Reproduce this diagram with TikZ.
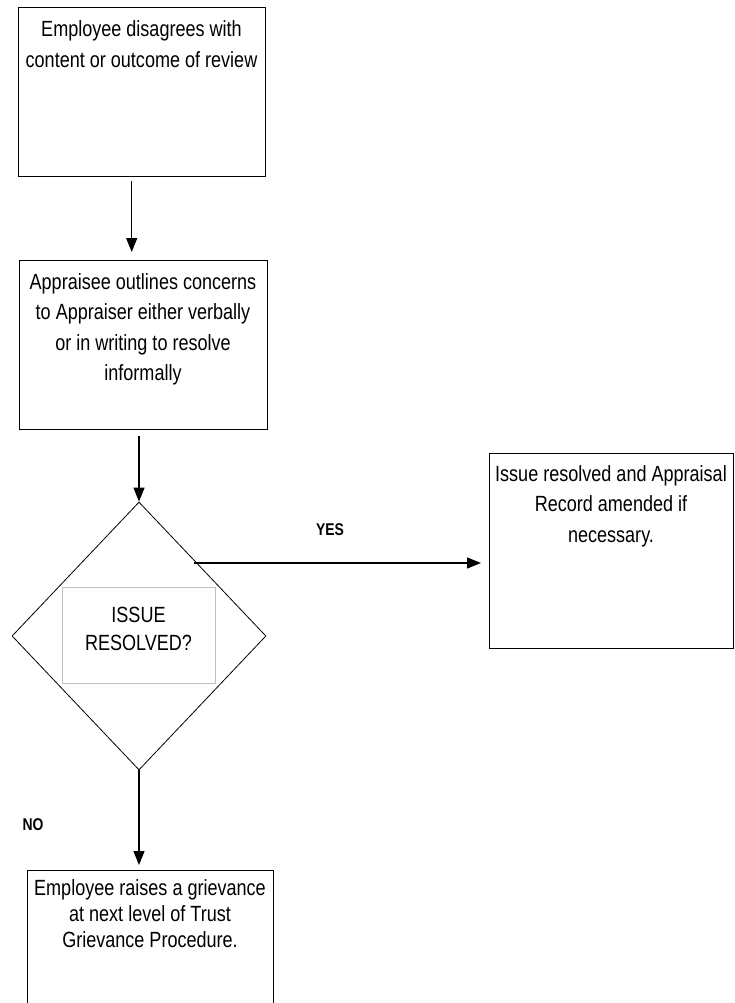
\documentclass[tikz,border=0pt]{standalone}
\usepackage{fontspec}
\setmainfont{Liberation Sans}[FakeStretch=0.82]
\usetikzlibrary{arrows.meta,shapes.geometric,calc}
\begin{document}
\begin{tikzpicture}[x=1pt,y=-1pt,
  box/.style={draw=black,line width=1.4pt,inner sep=0pt,anchor=north west},
  txt/.style={align=center,inner sep=0pt,anchor=north},
  arr/.style={line width=1.3pt,-{Triangle[length=14pt,width=11pt]}},
  lbl/.style={font=\fontsize{17}{19}\selectfont\bfseries,inner sep=0pt}]
\useasboundingbox (0,0) rectangle (734,1003);
% boxes
\node[box,minimum width=247pt,minimum height=169pt] (b1) at (18,7) {};
\node[box,minimum width=248pt,minimum height=169pt] (b2) at (19,260) {};
\node[box,minimum width=244pt,minimum height=195pt] (b3) at (489,453) {};
\node[box,minimum width=246pt,minimum height=150pt] (b4) at (27,870) {};
\node[draw=black,line width=0.8pt,shape=diamond,inner sep=0pt,minimum width=254pt,minimum height=268pt] (dia) at (139,636) {};
\node[draw=black!25,line width=1pt,inner sep=0pt,minimum width=153pt,minimum height=96pt] (ir) at (138.5,635) {};
% texts
\node[txt,font=\fontsize{22}{31}\selectfont] (t1) at (141.5,20) {Employee disagrees with\\content or outcome of review};
\node[txt,font=\fontsize{22}{30.5}\selectfont] (t2) at (143,273) {Appraisee outlines concerns\\to Appraiser either verbally\\or in writing to resolve\\informally};
\node[txt,font=\fontsize{22}{30.5}\selectfont] (t3) at (611,465) {Issue resolved and Appraisal\\Record amended if\\necessary.};
\node[txt,font=\fontsize{22}{26}\selectfont] (t4) at (150,879) {Employee raises a grievance\\at next level of Trust\\Grievance Procedure.};
\node[txt,font=\fontsize{22}{28}\selectfont] (t5) at (138.5,607) {ISSUE\\RESOLVED?};
% labels
\node[lbl] (yes) at (330,530) {YES};
\node[lbl] (no) at (33,825) {NO};
% connectors
\coordinate (ys) at (194,563);
\draw[arr] ($(b1.south)+(-10.5,4)$) -- ($(b2.north)+(-12,-8)$);
\draw[arr] ($(b2.south -| dia.north)+(0,6)$) -- (dia.north);
\draw[arr] (ys) -- ($(ys -| b3.west)+(-8,0)$);
\draw[arr] (dia.south) -- ($(dia.south |- b4.north)+(0,-5)$);
\end{tikzpicture}
\end{document}
